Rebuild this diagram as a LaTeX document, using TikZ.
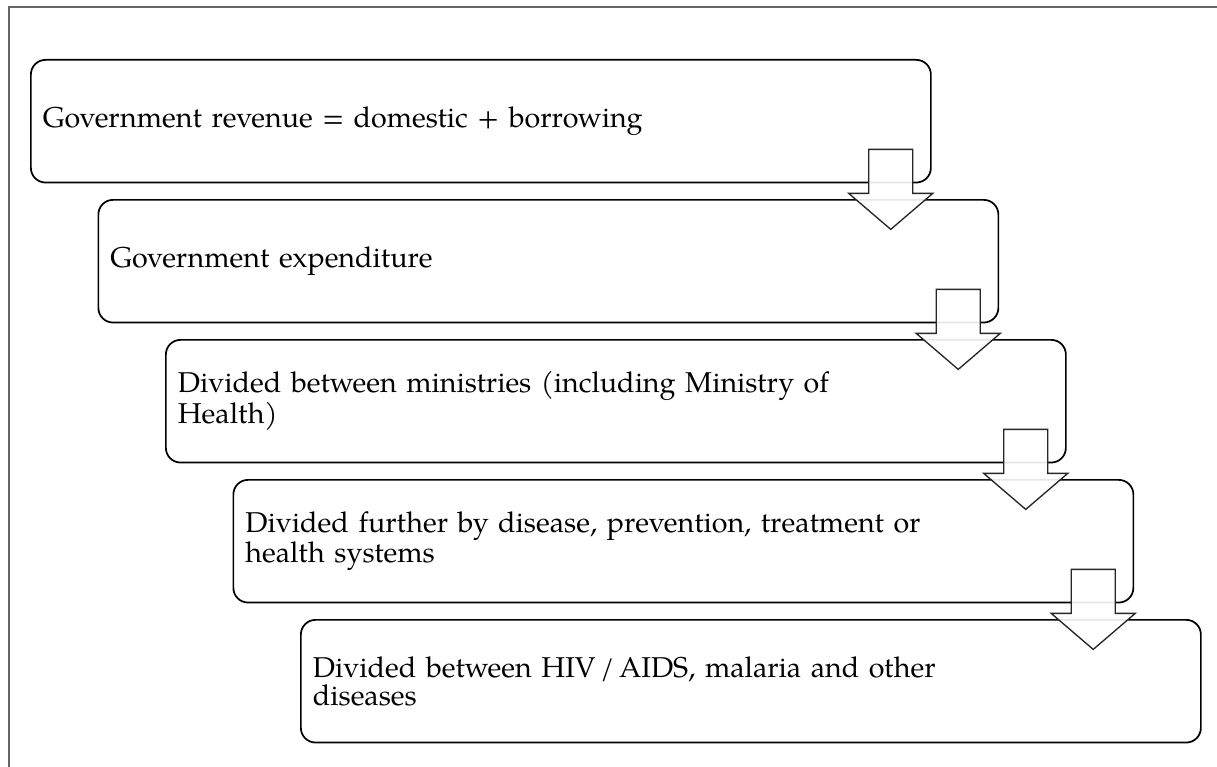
\documentclass[tikz,border=0pt]{standalone}
\usepackage{fontspec}
\setmainfont{TeX Gyre Pagella}
\begin{document}
\begin{tikzpicture}[x=0.75pt,y=-0.75pt,
  stepbox/.style={draw=black, line width=1.3pt, rounded corners=11pt,
    minimum width=675pt, minimum height=92pt, text width=657pt,
    inner xsep=9pt, align=left, anchor=north west,
    font=\fontsize{21.5}{21}\selectfont},
  blockarrow/.style={draw=black!85, line width=1pt, fill=white, fill opacity=0.9, line join=miter},
  frameline/.style={draw=black!60, line width=0.9pt}]
\useasboundingbox (0,0) rectangle (1217,767);
\draw[frameline] (9,767) -- (9,7) -- (1217,7);
\node[stepbox] (b1) at (30,59) {Government revenue = domestic + borrowing};
\node[stepbox] (b2) at (97.5,199) {Government expenditure};
\node[stepbox] (b3) at (165,339) {Divided between ministries (including Ministry of\\Health)};
\node[stepbox] (b4) at (232.5,479) {Divided further by disease, prevention, treatment or\\health systems};
\node[stepbox] (b5) at (300,619) {Divided between HIV\,/\,AIDS, malaria and other\\diseases};
\foreach \i in {1,...,4}{
  \draw[blockarrow] ([shift={(-63,-34)}]b\i.south east) -- ++(44,0) -- ++(0,44) -- ++(20,0)
    -- ++(-42,36) -- ++(-42,-36) -- ++(20,0) -- cycle;
}
\end{tikzpicture}
\end{document}
